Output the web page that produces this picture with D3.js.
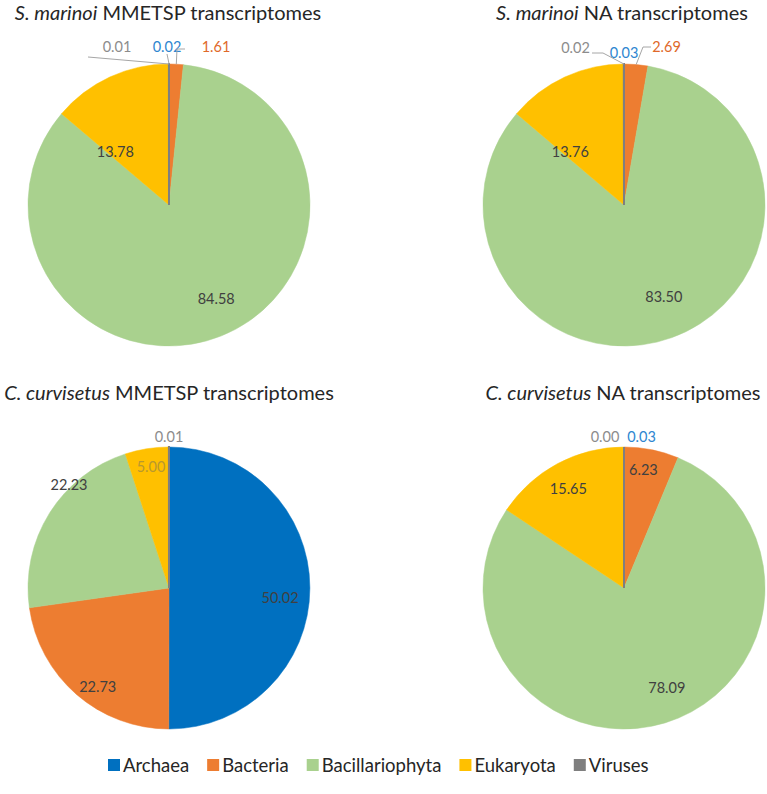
<!DOCTYPE html>
<html lang="en">
<head>
  <meta charset="UTF-8">
  <title>Taxonomic composition of transcriptomes</title>
  <script src="https://d3js.org/d3.v7.min.js"></script>
  <style>
    body { margin: 0; background: #fff; font-family: Lato, "Open Sans", sans-serif; }
    svg text { font-family: Lato, "Open Sans", sans-serif; }
  </style>
</head>
<body>
  <div id="chart"></div>
  <script>
    // data
    const categories = ["Archaea", "Bacteria", "Bacillariophyta", "Eukaryota", "Viruses"];
    const colors = ["#0070C0", "#ED7D31", "#A9D18E", "#FFC000", "#7F7F7F"];

    const species = ["S. marinoi", "S. marinoi", "C. curvisetus", "C. curvisetus"];
    const sources = ["MMETSP", "NA", "MMETSP", "NA"];

    const smarinoiMMETSP = [0.02, 1.61, 84.58, 13.78, 0.01];
    const smarinoiNA     = [0.03, 2.69, 83.50, 13.76, 0.02];
    const ccurvisetusMMETSP = [50.02, 22.73, 22.23, 5.00, 0.01];
    const ccurvisetusNA     = [0.03, 6.23, 78.09, 15.65, 0.00];
    const series = [smarinoiMMETSP, smarinoiNA, ccurvisetusMMETSP, ccurvisetusNA];

    // layout
    const W = 767, H = 794, R = 141;
    const centers = [[169, 205], [624, 205], [169, 588], [624, 588]];
    const titleY = [20, 20, 400, 400];
    const titleX = [168, 622, 169, 623];

    // label placement per pie, per slice: inside -> {r, da}, outside -> {dx, dy, leader}
    const labelSpots = [
      [
        {out: true, dx: -2, dy: -153, lead: [[-2, -151]]},
        {out: true, dx: 47, dy: -153, lead: [[16, -156], [8, -156]]},
        {r: 0.74, da: -5},
        {r: 0.54, da: -20},
        {out: true, dx: -52, dy: -153, lead: [[-81, -148]]}
      ],
      [
        {out: true, dx: 0, dy: -147},
        {out: true, dx: 42.5, dy: -153, lead: [[27, -158], [19, -158]]},
        {r: 0.71, da: -3.5},
        {r: 0.54, da: -20},
        {out: true, dx: -48.5, dy: -152, lead: [[-32, -152], [-21, -152]]}
      ],
      [
        {r: 0.79, da: 4.6},
        {r: 0.86, da: -5},
        {r: 1.02, da: 14},
        {r: 0.87, da: 0.6, color: "#b8982e"},
        {out: true, dx: 0, dy: -146}
      ],
      [
        {out: true, dx: 17.5, dy: -146},
        {r: 0.85, da: -2},
        {r: 0.77, da: -6.3},
        {r: 0.81, da: -1},
        {out: true, dx: -19, dy: -146}
      ]
    ];
    const outColors = ["#2E86D0", "#E0692A", "#6f9a52", "#BF9000", "#8C8C8C"];

    const svg = d3.select("#chart").append("svg")
      .attr("width", W).attr("height", H);

    const color = d3.scaleOrdinal().domain(categories).range(colors);
    const pie = d3.pie().sort(null).value(d => d.v);
    const arc = d3.arc().innerRadius(0).outerRadius(R);

    series.forEach((vals, i) => {
      const [cx, cy] = centers[i];

      // title
      const t = svg.append("text")
        .attr("x", titleX[i]).attr("y", titleY[i])
        .attr("text-anchor", "middle")
        .style("font-size", "20px").attr("fill", "#262626");
      t.append("tspan").style("font-style", "italic").text(species[i]);
      t.append("tspan").text(" " + sources[i] + " transcriptomes");

      const g = svg.append("g").attr("transform", `translate(${cx},${cy})`);
      const arcs = pie(vals.map((v, k) => ({v, cat: categories[k]})));

      g.selectAll("path").data(arcs).join("path")
        .attr("d", arc)
        .attr("fill", d => color(d.data.cat))
        .attr("stroke", d => color(d.data.cat))
        .attr("stroke-width", d => d.data.cat === "Viruses" ? 2 : 0.5);

      arcs.forEach((a, k) => {
        const spot = labelSpots[i][k];
        const txt = d3.format(".2f")(a.data.v);
        if (spot.out) {
          if (spot.lead) {
            const mid = (a.startAngle + a.endAngle) / 2;
            const edge = d3.pointRadial(mid, R);
            g.append("polyline")
              .attr("points", [...spot.lead, edge].map(p => p.join(",")).join(" "))
              .attr("fill", "none").attr("stroke", "#A6A6A6").attr("stroke-width", 1);
          }
          g.append("text")
            .attr("x", spot.dx).attr("y", spot.dy)
            .attr("text-anchor", "middle")
            .style("font-size", "14.5px")
            .attr("fill", outColors[k])
            .text(txt);
        } else {
          const mid = (a.startAngle + a.endAngle) / 2 + spot.da * Math.PI / 180;
          const [x, y] = d3.pointRadial(mid, R * spot.r);
          g.append("text")
            .attr("x", x).attr("y", y)
            .attr("text-anchor", "middle")
            .attr("dominant-baseline", "central")
            .style("font-size", "14.5px")
            .attr("fill", spot.color || "#404040")
            .text(txt);
        }
      });
    });

    // legend
    const legend = svg.append("g").attr("transform", "translate(0,772)");
    let lx = 108;
    categories.forEach(c => {
      const it = legend.append("g").attr("transform", `translate(${lx},0)`);
      it.append("rect").attr("x", 0).attr("y", -13).attr("width", 12).attr("height", 12)
        .attr("fill", color(c));
      const tx = it.append("text").attr("x", 15).attr("y", 0)
        .style("font-size", "18.5px").attr("fill", "#262626").text(c);
      lx += 15 + tx.node().getComputedTextLength() + 18;
    });
  </script>
</body>
</html>
